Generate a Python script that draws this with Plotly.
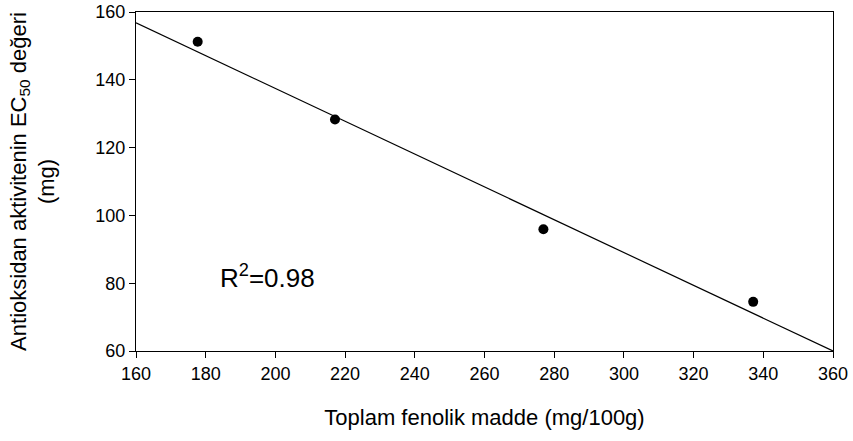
import plotly.graph_objects as go

# Data
x_phenolic = [177.7, 217.1, 276.9, 337.1]
y_ec50 = [151.2, 128.3, 95.9, 74.5]
fit_x = [160, 360]
fit_y = [156.8, 60.0]
x_ticks = [160, 180, 200, 220, 240, 260, 280, 300, 320, 340, 360]
y_ticks = [60, 80, 100, 120, 140, 160]

FONT = "Arial"

fig = go.Figure()
fig.add_trace(go.Scatter(x=fit_x, y=fit_y, mode="lines",
                         line=dict(color="black", width=1.2), showlegend=False))
fig.add_trace(go.Scatter(x=x_phenolic, y=y_ec50, mode="markers",
                         marker=dict(color="black", size=10), showlegend=False))

fig.add_annotation(x=0.117, y=0.22, xref="paper", yref="paper",
                   text="R<sup>2</sup>=0.98", showarrow=False,
                   font=dict(family=FONT, size=26, color="black"),
                   xanchor="left", yanchor="middle")

axis_common = dict(showgrid=False, zeroline=False, showline=True, linecolor="black",
                   linewidth=1, mirror=True, ticks="outside", ticklen=6,
                   tickcolor="black", tickfont=dict(family=FONT, size=18, color="black"))

fig.update_xaxes(range=[160, 360], tickvals=x_ticks, ticktext=[str(v) for v in x_ticks],
                 title=dict(text="Toplam fenolik madde (mg/100g)",
                            font=dict(family=FONT, size=22, color="black"), standoff=27),
                 **axis_common)
fig.update_yaxes(range=[60, 160], tickvals=y_ticks, ticktext=[str(v) for v in y_ticks],
                 title=dict(text="Antioksidan aktivitenin EC<sub>50</sub> değeri<br>(mg)",
                            font=dict(family=FONT, size=22, color="black"), standoff=34),
                 **axis_common)

fig.update_layout(width=853, height=441,
                  margin=dict(l=136, r=20, t=12, b=90, autoexpand=False),
                  plot_bgcolor="white", paper_bgcolor="white",
                  font=dict(family=FONT, color="black"))

fig.write_html("out.html", config={"displayModeBar": False},
               post_script="document.body.style.margin='0';document.body.style.overflow='hidden';")
